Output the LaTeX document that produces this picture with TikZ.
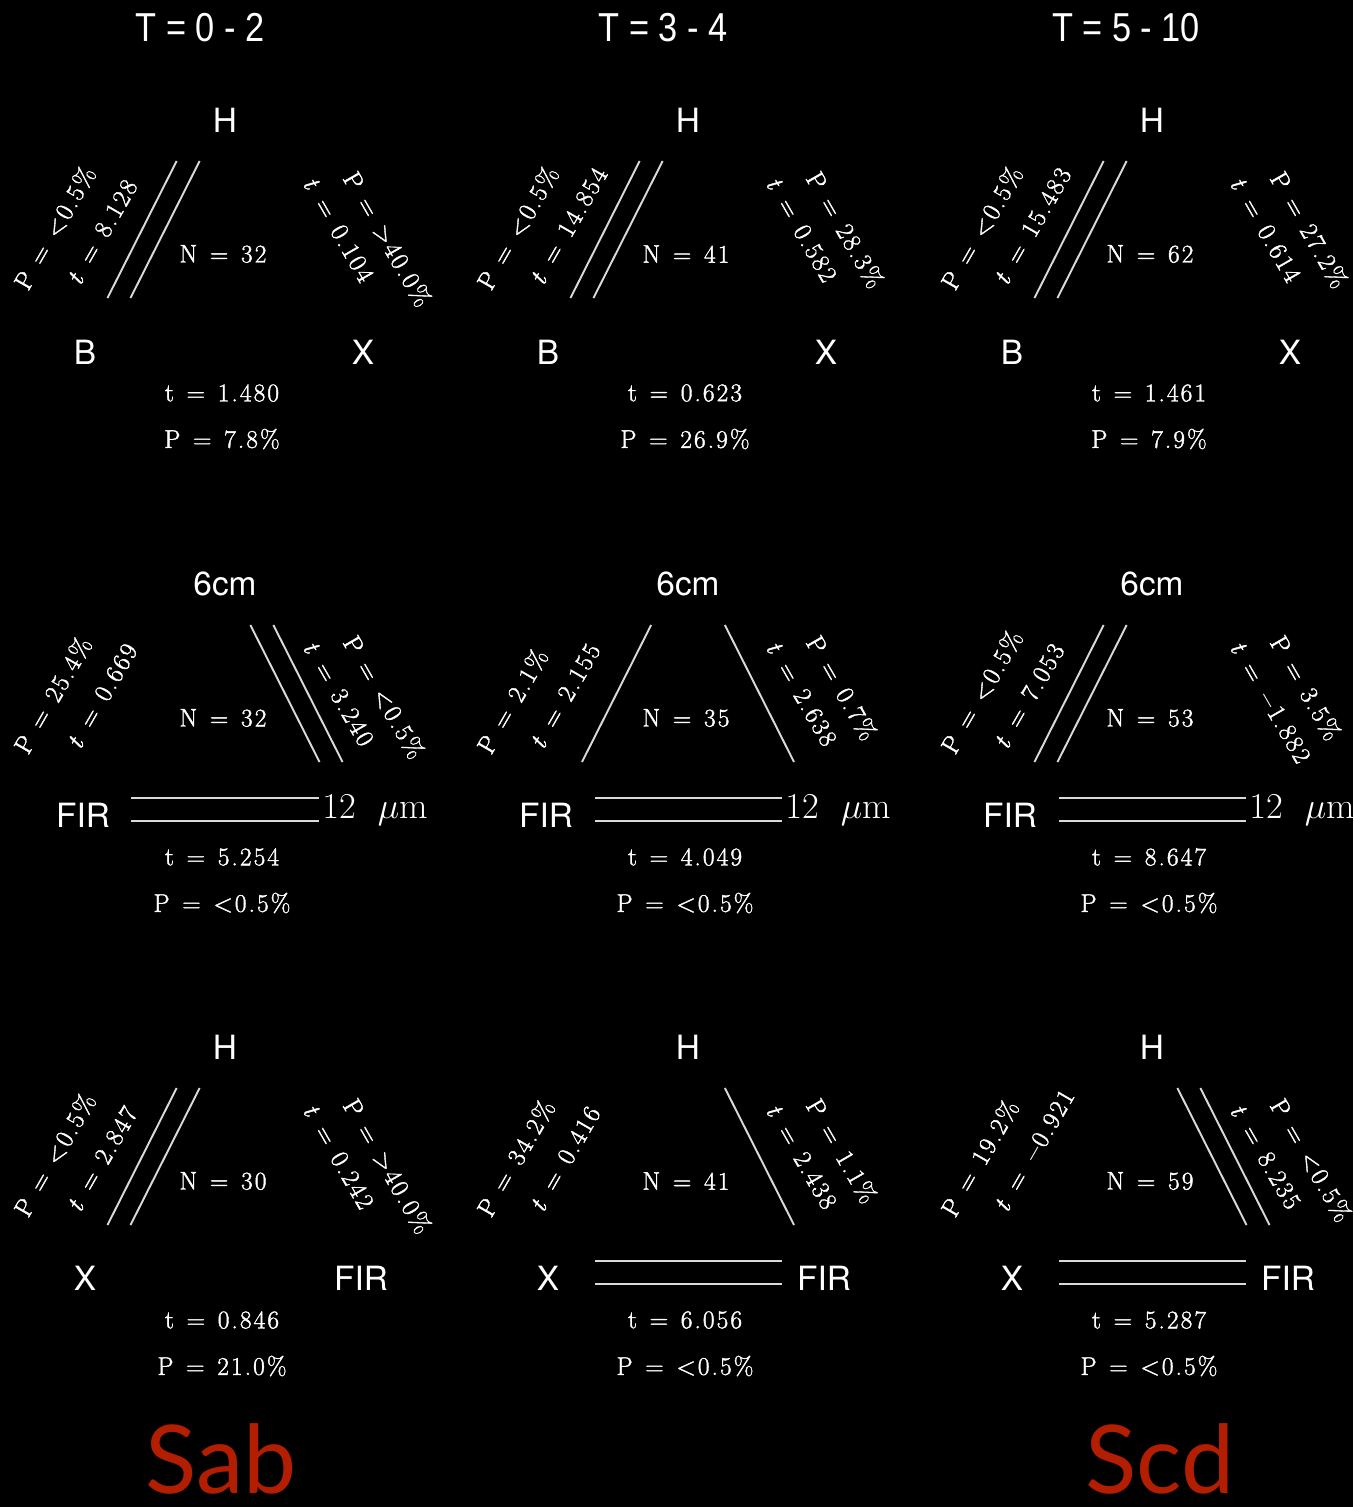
\documentclass[tikz,border=0pt]{standalone}
\usepackage{fontspec}
\newfontfamily\vfont{TeX Gyre Heros}
\newfontfamily\headfont[FakeStretch=0.85]{Liberation Sans}
\newfontfamily\galfont{Lato}
\newfontfamily\numfont[LetterSpace=8, FakeBold=1.5]{Latin Modern Roman}
\usetikzlibrary{calc}
\definecolor{galred}{RGB}{180,30,0}
\newcommand{\iseq}{\enspace=\enspace}

\begin{document}
\begin{tikzpicture}[x=0.02cm, y=-0.02cm,
  vtx/.style={text=white, inner sep=0pt, font=\fontsize{19}{23}\selectfont\vfont},
  mum/.style={text=white, inner sep=0pt, anchor=base west, font=\fontsize{21}{25}\selectfont},
  num/.style={text=white, inner sep=0pt, font=\fontsize{14.5}{17}\selectfont\numfont},
  lrot/.style={num, rotate=60, anchor=base west},
  rrot/.style={num, rotate=-60, anchor=base west},
  header/.style={text=white, inner sep=0pt, font=\fontsize{23}{27}\selectfont\headfont},
  galtype/.style={text=galred, inner sep=0pt, anchor=base, font=\fontsize{54}{60}\selectfont\galfont},
  sgl/.style={draw=white!85!black, line width=1.1pt},
  dbl/.style={draw=none,
    postaction={sgl, transform canvas={xshift=-0.23cm}},
    postaction={sgl, transform canvas={xshift=0.23cm}}},
  dblh/.style={draw=none,
    postaction={sgl, transform canvas={yshift=-0.23cm}},
    postaction={sgl, transform canvas={yshift=0.23cm}}},
  nol/.style={draw=none},
  ledge/.style={shorten <=1.064cm, shorten >=1.636cm},
  redge/.style={shorten <=1.636cm, shorten >=1.064cm},
  bedge/.style={shorten <=0.73cm, shorten >=0.73cm}]
\useasboundingbox (0,0) rectangle (1353,1507);
\fill[black] (0,0) rectangle (1353,1507);
\foreach \x/\rng in {200/{0 - 2}, 663/{3 - 4}, 1126/{5 - 10}}
  \node[header] (T\x) at (\x,28) {T = \rng};
\foreach \x [count=\j] in {225,688,1152} {
  \node[vtx] (ha\j) at (\x,120) {H};
  \node[vtx] (ba\j) at (\x-140,352) {B};
  \node[vtx] (xa\j) at (\x+138,352) {X};
  \node[vtx] (rb\j) at (\x,584) {6cm};
  \node[vtx] (fb\j) at (\x-142,815) {FIR};
  \node[mum] (mb\j) at (\x+97,818) {$12$\hspace{0.6em}$\mu$m};
  \node[vtx] (hc\j) at (\x,1047) {H};
  \node[vtx] (xc\j) at (\x-140,1278) {X};
  \node[vtx] (fc\j) at (\x+136,1278) {FIR};
}
\foreach \x/\y/\n/\lp/\lt/\ls/\rp/\rt/\rs/\bt/\bp/\bs [count=\i] in {
  225/120/32/<0.5\%/8.128/dbl/>40.0\%/0.104/nol/1.480/7.8\%/nol,
  688/120/41/<0.5\%/14.854/dbl/28.3\%/0.582/nol/0.623/26.9\%/nol,
  1152/120/62/<0.5\%/15.483/dbl/27.2\%/0.614/nol/1.461/7.9\%/nol,
  225/584/32/25.4\%/0.669/nol/<0.5\%/3.240/dbl/5.254/<0.5\%/dblh,
  688/584/35/2.1\%/2.155/sgl/0.7\%/2.638/sgl/4.049/<0.5\%/dblh,
  1152/584/53/<0.5\%/7.053/dbl/3.5\%/{$-$1.882}/nol/8.647/<0.5\%/dblh,
  225/1047/30/<0.5\%/2.847/dbl/>40.0\%/0.242/nol/0.846/21.0\%/nol,
  688/1047/41/34.2\%/0.416/nol/1.1\%/2.438/sgl/6.056/<0.5\%/dblh,
  1152/1047/59/19.2\%/{$-$0.921}/nol/<0.5\%/8.235/dbl/5.287/<0.5\%/dblh} {
  \begin{scope}[shift={(\x,\y)}]
    \coordinate (ap\i) at (0,-32);
    \coordinate (cl\i) at (-130,225.5);
    \coordinate (cr\i) at (130,225.5);
    \draw[\ls, ledge] (cl\i) -- (ap\i);
    \draw[\rs, redge] (ap\i) -- (cr\i);
    \draw[\bs, bedge] (cl\i) -- (cr\i);
    \node[num] (N\i) at (-2,134) {N\iseq\n};
    \node[lrot] (lp\i) at (-197,172) {P\iseq\lp};
    \node[lrot] (lt\i) at (-145,167) {\textit{t}\iseq\lt};
    \node[rrot] (rp\i) at (117,58) {P\iseq\rp};
    \node[rrot] (rt\i) at (77,63) {\textit{t}\iseq\rt};
    \node[num] (bt\i) at (-3,273) {t\iseq\bt};
    \node[num] (bp\i) at (-3,319) {P\iseq\bp};
  \end{scope}
}
\node[galtype] (sab) at (221,1493) {Sab};
\node[galtype] (scd) at (1160,1493) {Scd};
\end{tikzpicture}
\end{document}
